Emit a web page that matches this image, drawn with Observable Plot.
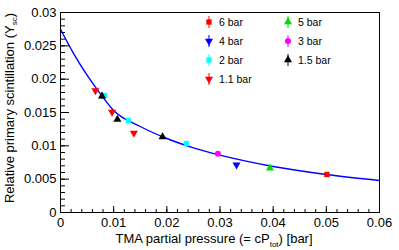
<!DOCTYPE html>
<html><head><meta charset="utf-8">
<script src="https://cdn.jsdelivr.net/npm/d3@7"></script>
<script src="https://cdn.jsdelivr.net/npm/@observablehq/plot@0.6"></script>
<style>
body{margin:0;background:#fff;}
#chart svg{display:block;font-family:"Liberation Sans",Arial,sans-serif;}
</style>
</head><body><div id="chart"></div>
<script>
// Legend series
const seriesNames = ["6 bar","5 bar","4 bar","3 bar","2 bar","1.5 bar","1.1 bar"];
const seriesColors = ["#ff0000","#00dd00","#0000ff","#ff00ff","#00ffff","#000000","#ff0000"];
const seriesSymbols = ["square","triangle","triangle","circle","square","triangle","triangle"];
const seriesRotate = [0,0,180,0,0,0,180];
const legendOrder = ["6 bar","5 bar","4 bar","3 bar","2 bar","1.5 bar","1.1 bar"];

// Measured points
const pointSeries = ["6 bar","5 bar","4 bar","3 bar","2 bar","2 bar","2 bar","1.5 bar","1.5 bar","1.5 bar","1.1 bar","1.1 bar","1.1 bar"];
const pointX = [0.0501,0.0394,0.0331,0.0296,0.00833,0.01275,0.0237,0.0078,0.0107,0.0192,0.00657,0.0097,0.0138];
const pointY = [0.0057,0.00665,0.00715,0.0088,0.01755,0.0138,0.01035,0.01745,0.01395,0.01135,0.0183,0.01505,0.0119];
const pointErr = [0.0002,0.0002,0.0002,0.0002,0.0002,0.0002,0.0002,0.0005,0.0002,0.0002,0.0004,0.0004,0.0002];

// Fitted curve
const curveX = [0,0.0025,0.005,0.0075,0.01,0.015,0.02,0.025,0.03,0.04,0.05,0.06];
const curveY = [0.0275,0.0238,0.0206,0.0178,0.0153,0.0129,0.0111,0.0097,0.0086,0.0069,0.0057,0.0048];

// Ticks
const xMajor = [0,0.01,0.02,0.03,0.04,0.05,0.06];
const yMajor = [0,0.005,0.01,0.015,0.02,0.025,0.03];
const xMinor = d3.range(0,0.0601,0.002);
const yMinor = d3.range(0,0.0301,0.001);

const W = 399, H = 250;
const mL = 60, mR = 20, mT = 12, mB = 38;
const innerW = W - mL - mR, innerH = H - mT - mB;
const R = 3;

const idx = s => seriesNames.indexOf(s);
const points = pointX.map((x,i)=>({x, y: pointY[i], e: pointErr[i], s: pointSeries[i]}));
const curve = curveX.map((x,i)=>({x, y: curveY[i]}));

const plot = Plot.plot({
  width: W, height: H,
  marginLeft: mL, marginRight: mR, marginTop: mT, marginBottom: mB,
  style: {fontFamily: '"Liberation Sans", Arial, sans-serif', fontSize: "13px", color: "#000", background: "#fff"},
  x: {domain: [0,0.06], axis: null},
  y: {domain: [0,0.03], axis: null},
  marks: [
    Plot.tickX(xMajor, {x: d=>d, insetTop: innerH-6, stroke: "#000"}),
    Plot.tickX(xMinor, {x: d=>d, insetTop: innerH-3, stroke: "#000"}),
    Plot.tickY(yMajor, {y: d=>d, insetRight: innerW-9, stroke: "#000"}),
    Plot.tickY(yMinor, {y: d=>d, insetRight: innerW-5, stroke: "#000"}),
    Plot.axisX(xMajor, {tickSize: 0, tickPadding: 5, fontSize: 13, label: null, tickFormat: d => d===0 ? "0" : String(d)}),
    Plot.axisY(yMajor, {tickSize: 0, tickPadding: 4, fontSize: 13, label: null, tickFormat: d => d===0 ? "0" : String(d)}),
    Plot.line(curve, {x: "x", y: "y", curve: "monotone-x", stroke: "#0000ff", strokeWidth: 1.4}),
    Plot.ruleX(points, {x: "x", y1: d=>d.y-d.e, y2: d=>d.y+d.e, stroke: d=>seriesColors[idx(d.s)], strokeWidth: 1}),
    Plot.dot(points, {x: "x", y: "y", r: R, fill: d=>seriesColors[idx(d.s)], stroke: "none",
      symbol: d=>seriesSymbols[idx(d.s)], rotate: d=>seriesRotate[idx(d.s)]}),
    Plot.frame({stroke: "#000", strokeWidth: 1})
  ]
});
document.getElementById("chart").appendChild(plot);

const svg = d3.select(plot);
// Axis titles with subscripts
const yt = svg.append("text")
  .attr("transform", `translate(14,${mT + innerH/2 - 4}) rotate(-90)`)
  .attr("text-anchor", "middle").attr("font-size", 13).attr("fill", "#000");
yt.append("tspan").text("Relative primary scintillation (Y");
yt.append("tspan").attr("font-size", 8).attr("dy", 3).text("sc");
yt.append("tspan").attr("dy", -3).text(")");

const xt = svg.append("text")
  .attr("x", 214).attr("y", 243)
  .attr("text-anchor", "middle").attr("font-size", 13).attr("fill", "#000");
xt.append("tspan").text("TMA partial pressure (= cP");
xt.append("tspan").attr("font-size", 8).attr("dy", 4).text("tot");
xt.append("tspan").attr("dy", -4).text(") [bar]");

// Legend (two columns)
const leg = svg.append("g").attr("font-size", 10.5).attr("fill", "#000").attr("text-anchor", "start");
legendOrder.forEach((name, k) => {
  const col = k % 2, row = Math.floor(k / 2);
  const lx = 209 + col * 79, ly = 22 + row * 19;
  const i = idx(name);
  const sym = {square: d3.symbolSquare, triangle: d3.symbolTriangle, circle: d3.symbolCircle}[seriesSymbols[i]];
  leg.append("line").attr("x1", lx).attr("x2", lx).attr("y1", ly-6).attr("y2", ly+6)
    .attr("stroke", seriesColors[i]).attr("stroke-width", 1);
  leg.append("path").attr("d", d3.symbol(sym, R*R*Math.PI)())
    .attr("transform", `translate(${lx},${ly}) rotate(${seriesRotate[i]})`)
    .attr("fill", seriesColors[i]);
  leg.append("text").attr("x", lx + 10).attr("y", ly + 4).text(name);
});
</script>
</body></html>
